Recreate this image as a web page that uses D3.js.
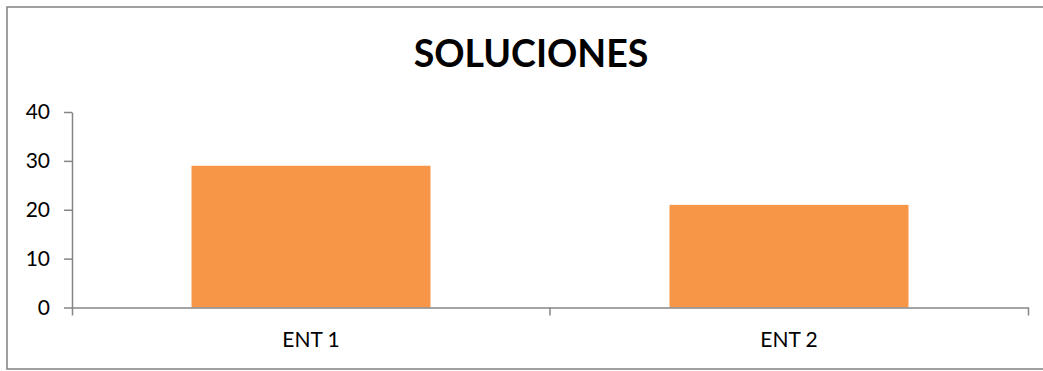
<!DOCTYPE html>
<html>
<head>
<meta charset="utf-8">
<script src="https://cdn.jsdelivr.net/npm/d3@7"></script>
<style>
  html, body { margin: 0; padding: 0; background: #fff; }
  svg { display: block; }
</style>
</head>
<body>
<svg id="chart" width="1043" height="371"></svg>
<script>
// Chart data
const categories = ["ENT 1", "ENT 2"];
const values = [29, 21];
const yTicks = [0, 10, 20, 30, 40];
const title = "SOLUCIONES";

const svg = d3.select("#chart");
const font = "Lato, 'Open Sans', sans-serif";
const axisColor = "#868686";

// Outer chart frame
svg.append("rect")
  .attr("x", 7).attr("y", 7)
  .attr("width", 1060).attr("height", 362)
  .attr("fill", "#fff")
  .attr("stroke", "#888")
  .attr("stroke-width", 1.6);

// Plot area
const plotLeft = 72, plotRight = 1028, plotTop = 112, plotBottom = 307.5;

const x = d3.scaleBand()
  .domain(categories)
  .range([plotLeft, plotRight])
  .paddingInner(0.5)
  .paddingOuter(0.25);

const y = d3.scaleLinear()
  .domain([0, 40])
  .range([plotBottom, plotTop]);

// Bars
svg.append("g")
  .selectAll("rect")
  .data(categories)
  .join("rect")
  .attr("x", d => x(d))
  .attr("y", (d, i) => y(values[i]))
  .attr("width", x.bandwidth())
  .attr("height", (d, i) => y(0) - y(values[i]))
  .attr("fill", "#f79646");

// Y axis
const yAxis = svg.append("g")
  .attr("transform", `translate(${plotLeft},0)`)
  .call(d3.axisLeft(y).tickValues(yTicks).tickSize(8).tickSizeOuter(0).tickPadding(14));
yAxis.select(".domain").attr("stroke", axisColor).attr("stroke-width", 1.5);
yAxis.selectAll(".tick line").attr("stroke", axisColor).attr("stroke-width", 1.5);
yAxis.selectAll(".tick text")
  .attr("fill", "#000")
  .style("font-family", font)
  .style("font-size", "21px");

// X axis; outer ticks mark the ends of the category range
const xAxis = svg.append("g")
  .attr("transform", `translate(0,${plotBottom})`)
  .call(d3.axisBottom(x).tickSizeInner(0).tickSizeOuter(8).tickPadding(25));
xAxis.select(".domain").attr("stroke", axisColor).attr("stroke-width", 1.5).attr("fill", "none");
xAxis.selectAll(".tick line").remove();
xAxis.selectAll(".tick text")
  .attr("fill", "#000")
  .style("font-family", font)
  .style("font-size", "21px");

// Divider ticks between neighbouring categories
const gap = (x.step() - x.bandwidth()) / 2;
xAxis.selectAll("line.divider")
  .data(categories.slice(1))
  .join("line")
  .attr("class", "divider")
  .attr("x1", d => x(d) - gap)
  .attr("x2", d => x(d) - gap)
  .attr("y1", 0).attr("y2", 8)
  .attr("stroke", axisColor)
  .attr("stroke-width", 1.5);

// Title
svg.append("text")
  .attr("x", (plotLeft + plotRight) / 2 - 19)
  .attr("y", 67)
  .attr("text-anchor", "middle")
  .style("font-family", font)
  .style("font-weight", "bold")
  .style("font-size", "37.5px")
  .attr("fill", "#000")
  .text(title);
</script>
</body>
</html>
